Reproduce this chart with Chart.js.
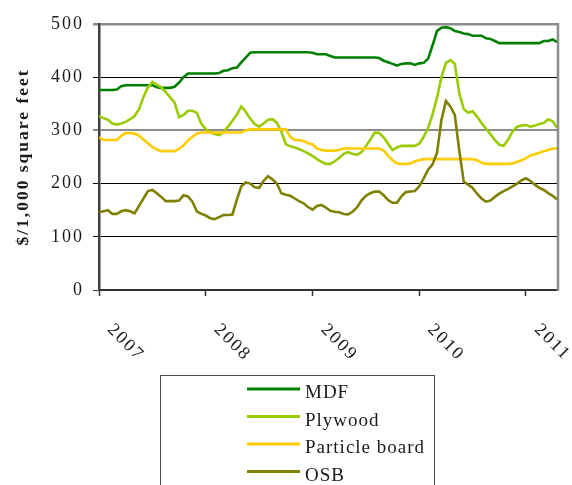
<!DOCTYPE html>
<html><head><meta charset="utf-8">
<script src="https://cdn.jsdelivr.net/npm/chart.js@4/dist/chart.umd.min.js"></script>
<style>html,body{margin:0;padding:0;background:#fff}#wrap{width:572px;height:485px}</style>
</head><body><div id="wrap"><canvas id="c" width="572" height="485"></canvas></div>
<script>
// Half-month price series, Jan 2007 – Apr 2011 ($ per 1,000 square feet)
const startYear = 2007;
const pointsPerYear = 24;
const seriesNames = ['MDF', 'Plywood', 'Particle board', 'OSB'];
const seriesColors = ['#008000', '#99CC00', '#FFCC00', '#808000'];
const yearTicks = [2007, 2008, 2009, 2010, 2011];
const yearLabels = ['2007', '2008', '2009', '2010', '2011'];
const yTicks = [0, 100, 200, 300, 400, 500];
const yTitle = '$/1,000 square feet';

const mdf = [376,376,376,376, 377,383,385,385, 385,385,385,385,385, 381,380,380,380,382,
  390,400,407,407,407, 407,407,407,407,408, 412,413,417,418,428, 437,446,447,447,447,
  447,447,447,447,447,447,447,447,447,447, 446,443,443,443,440,
  437,437,437,437,437,437,437,437,437,437, 436,431,428,425,422, 425,426,426,423,426,
  427,435,460,487,493, 494,492,487,485,482, 481,478,478,478,473, 472,468,464,464,464,
  464,464,464,464,464, 464,464,468,468,471,466];
const plywood = [327,323,320,313,311, 313,316,321,327,340, 363,381,391,386,381,
  372,362,352,325,329, 337,337,333,313,302, 297,293,291,297,307, 318,330,345,335,322,
  312,307,313,320,321, 314,298,274,270,268, 265,261,257,252,246, 241,237,237,242,248,
  256,259,256,254,259, 270,283,296,295,287, 275,263,268,271,271, 271,271,275,288,305,
  330,362,400,427,432, 425,370,340,333,336, 326,314,303,293,282, 273,271,283,298,307,
  309,310,307,309,312, 314,321,317,305];
const particle = [287,282,282,282,282, 290,295,295,294,290, 283,276,269,264,261,
  261,261,261,265,272, 281,288,294,296,296, 296,296,296,296,296, 296,296,296,300,302,
  302,302,302,302,302, 302,302,302,288,282, 282,280,276,274,266, 263,262,262,262,263,
  266,266,266,266,266, 266,266,266,266,262, 252,244,238,237,237, 238,242,244,246,246,
  246,246,246,246,246, 246,246,246,246,246, 244,239,237,237,237, 237,237,237,238,241,
  244,248,253,255,258, 261,263,266,266];
const osb = [146,148,150,143,143, 148,150,148,144,158, 172,186,188,182,175,
  167,167,167,168,178, 176,166,148,143,140, 135,133,137,141,141, 142,170,195,202,200,
  193,192,205,214,208, 200,182,179,177,172, 167,163,156,151,158, 160,155,149,147,146,
  143,142,147,155,168, 177,182,185,185,178, 169,164,164,176,184, 185,186,195,210,226,
  236,258,320,355,345, 329,262,204,198,192, 181,172,166,168,175, 181,186,190,195,200,
  206,210,205,198,192, 188,182,177,170];

const seriesValues = [mdf, plywood, particle, osb];
const FONT = "'Liberation Serif', 'Times New Roman', serif";

const spacingPlugin = {
  id: 'spacing',
  beforeUpdate(c) { c.ctx.letterSpacing = '2px'; },
  beforeLayout(c) { c.ctx.letterSpacing = '2px'; },
  beforeDraw(c) { c.ctx.letterSpacing = '2px'; }
};

const decorPlugin = {
  id: 'decor',
  afterDraw(chart) {
    const ctx = chart.ctx;
    const area = chart.chartArea;
    const xs = chart.scales.x;
    ctx.save();
    ctx.letterSpacing = '2px';
    // right frame line
    ctx.strokeStyle = '#8c8c8c';
    ctx.lineWidth = 2.5;
    ctx.beginPath();
    ctx.moveTo(area.right, area.top - 1);
    ctx.lineTo(area.right, area.bottom + 1);
    ctx.stroke();
    // rotated year labels
    ctx.fillStyle = '#1a1a1a';
    ctx.font = "18px " + FONT;
    ctx.textAlign = 'left';
    ctx.textBaseline = 'middle';
    yearTicks.forEach((yr, i) => {
      const px = xs.getPixelForValue(yr);
      ctx.save();
      ctx.translate(px + 11, xs.top + 37);
      ctx.rotate(Math.PI / 4);
      ctx.fillText(yearLabels[i], 0, 0);
      ctx.restore();
    });
    // legend box
    ctx.strokeStyle = '#4d4d4d';
    ctx.lineWidth = 1;
    ctx.strokeRect(160.5, 375.5, 274, 130);
    ctx.letterSpacing = '1px';
    ctx.font = "19px " + FONT;
    ctx.textBaseline = 'alphabetic';
    chart.data.datasets.forEach((ds, i) => {
      const y = 389 + i * 27.5;
      ctx.strokeStyle = ds.borderColor;
      ctx.lineWidth = 3;
      ctx.beginPath();
      ctx.moveTo(247, y);
      ctx.lineTo(300, y);
      ctx.stroke();
      ctx.fillStyle = '#1a1a1a';
      ctx.fillText(ds.label, 305, y + 9);
    });
    ctx.restore();
  }
};

const datasets = seriesNames.map((name, s) => ({
  label: name,
  data: seriesValues[s].map((v, i) => ({ x: startYear + i / pointsPerYear, y: v })),
  borderColor: seriesColors[s],
  backgroundColor: seriesColors[s],
  borderWidth: 2.6,
  pointRadius: 0,
  tension: 0,
  fill: false,
  order: seriesNames.length - s
}));

function gridColor(ctx) {
  const v = ctx.tick && ctx.tick.value;
  if (v === 500 || v === 300) return '#8c8c8c';
  if (v === 0) return '#333333';
  return '#000000';
}
function gridWidth(ctx) {
  const v = ctx.tick && ctx.tick.value;
  if (v === 500) return 2.5;
  if (v === 300) return 2;
  return 1;
}

new Chart(document.getElementById('c'), {
  type: 'line',
  data: { datasets },
  plugins: [spacingPlugin, decorPlugin],
  options: {
    responsive: false,
    animation: false,
    devicePixelRatio: 1,
    layout: { padding: { top: 24, right: 14, left: 0, bottom: 0 } },
    plugins: { legend: { display: false }, tooltip: { enabled: false } },
    scales: {
      x: {
        type: 'linear',
        min: 2007,
        max: 2011.3,
        afterBuildTicks: (s) => { s.ticks = yearTicks.map(v => ({ value: v })); },
        afterFit: (s) => { s.height = 195; },
        ticks: { display: false },
        grid: { drawOnChartArea: false, drawTicks: true, tickLength: 6, tickColor: '#333333', tickWidth: 1.5 },
        border: { display: true, color: '#333333', width: 2 }
      },
      y: {
        min: 0,
        max: 500,
        afterBuildTicks: (s) => { s.ticks = yTicks.map(v => ({ value: v })); },
        afterFit: (s) => { s.width = 99; },
        ticks: { color: '#1a1a1a', padding: 9, font: { family: FONT, size: 18 } },
        grid: { color: gridColor, lineWidth: gridWidth, tickLength: 6, drawTicks: true },
        border: { display: true, color: '#404040', width: 2.5 },
        title: {
          display: true, text: yTitle, color: '#1a1a1a',
          font: { family: FONT, size: 17.5, weight: 'bold' },
          padding: { top: 13, bottom: 0 }
        }
      }
    }
  }
});
</script>
</body></html>
